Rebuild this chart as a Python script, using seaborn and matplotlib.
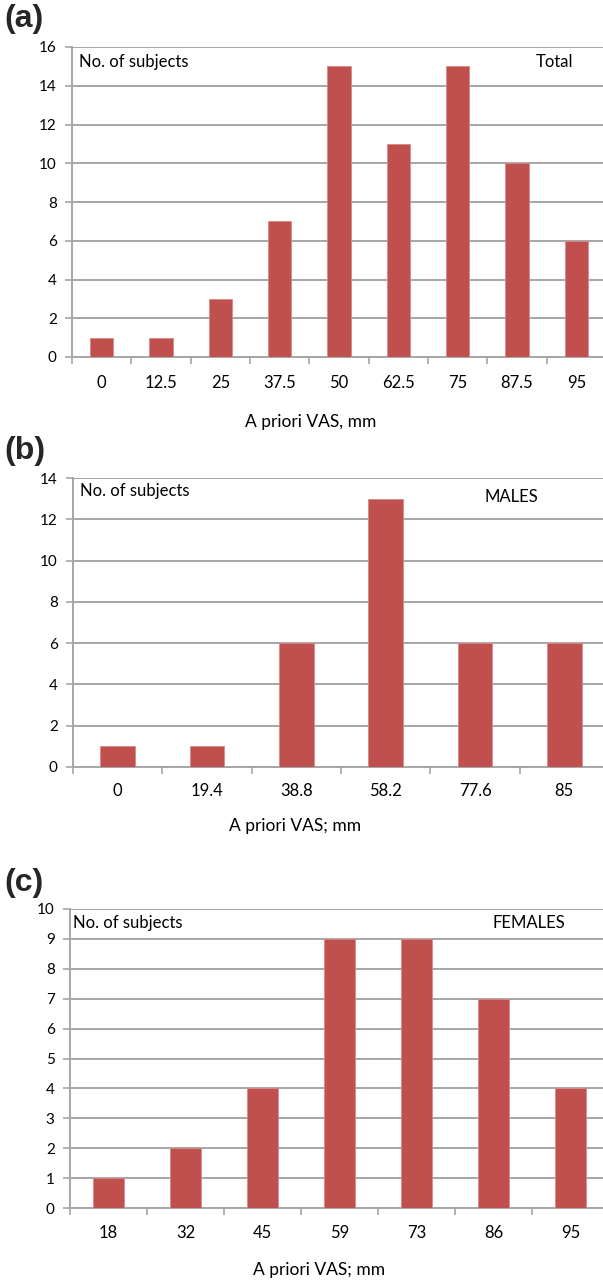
import matplotlib
matplotlib.use("Agg")
import matplotlib.pyplot as plt
import seaborn as sns
import numpy as np
import pandas as pd

# ---- data ----
total_cats = ["0", "12.5", "25", "37.5", "50", "62.5", "75", "87.5", "95"]
total_vals = [1, 1, 3, 7, 15, 11, 15, 10, 6]

male_cats = ["0", "19.4", "38.8", "58.2", "77.6", "85"]
male_vals = [1, 1, 6, 13, 6, 6]

female_cats = ["18", "32", "45", "59", "73", "86", "95"]
female_vals = [1, 2, 4, 9, 9, 7, 4]

panel_labels = ["(a)", "(b)", "(c)"]
group_labels = ["Total", "MALES", "FEMALES"]
xlabels = ["A priori VAS, mm", "A priori VAS; mm", "A priori VAS; mm"]
ymax = [16, 14, 10]
ystep = [2, 2, 1]

sns.set_theme(style="white")
plt.rcParams['font.family'] = ['Lato', 'DejaVu Sans']

W, H = 603, 1281
fig = plt.figure(figsize=(W / 100, H / 100), dpi=100)

BAR = "#C0504D"
GRID = "#a6a6a6"

# axes pixel boxes: left, top, bottom(0-line), right
boxes = [(72, 47, 357, 606), (73, 478, 767, 609), (70, 909, 1208, 609)]
panel_y = [19, 451, 883]
xlabel_pos = [(311, 422), (295, 826), (319, 1270)]
tick_y = [382, 790, 1232]
# annotation positions (pixels)
nos_pos = [(79, 62), (80, 491), (73, 923)]
grp_pos = [(555, 62), (511, 497), (529, 923)]

data = [(total_cats, total_vals), (male_cats, male_vals), (female_cats, female_vals)]

for i, ((cats, vals), (l, t, b, r)) in enumerate(zip(data, boxes)):
    ax = fig.add_axes([l / W, 1 - b / H, (r - l) / W, (b - t) / H])
    df = pd.DataFrame({"cat": cats, "val": vals})
    sns.barplot(data=df, x="cat", y="val", order=cats, color=BAR, saturation=1,
                width=0.39, edgecolor="#d98a88", linewidth=0.6, ax=ax, zorder=3)
    n = len(cats)
    ax.set_xlim(-0.5, n - 0.5)
    ax.set_ylim(0, ymax[i])
    ax.set_yticks(np.arange(0, ymax[i] + 0.01, ystep[i]))
    ax.yaxis.grid(True, color=GRID, linewidth=1.4, zorder=0)
    ax.set_axisbelow(True)
    for s in ["top", "right"]:
        ax.spines[s].set_visible(False)
    for s in ["left", "bottom"]:
        ax.spines[s].set_color(GRID)
        ax.spines[s].set_linewidth(1.4)
    # boundary tick marks (major), labels on minor ticks at centres
    ax.set_xticks(np.arange(-0.5, n, 1.0))
    ax.set_xticklabels([])
    ax.set_xticks(np.arange(n), minor=True)
    ax.set_xticklabels(cats, minor=True)
    ax.tick_params(axis="x", which="major", length=5, width=1.2, color=GRID, direction="out", bottom=True)
    ax.tick_params(axis="x", which="minor", length=0, pad=(tick_y[i] - b) * 0.72 - 5,
                   labelsize=12, labelcolor="black")
    ax.tick_params(axis="y", length=5, width=1.2, color=GRID, direction="out", left=True,
                   labelsize=11, labelcolor="black", pad=6)
    ax.set_xlabel("")
    ax.set_ylabel("")
    # texts
    fig.text(xlabel_pos[i][0] / W, 1 - xlabel_pos[i][1] / H, xlabels[i],
             ha="center", va="center", fontsize=12.5, color="black")
    fig.text(4 / W, 1 - panel_y[i] / H, panel_labels[i], ha="left", va="center",
             fontsize=23, fontweight="bold", family=["Liberation Sans", "DejaVu Sans"])
    fig.text(nos_pos[i][0] / W, 1 - nos_pos[i][1] / H, "No. of subjects", ha="left",
             va="center", fontsize=12, color="black")
    fig.text(grp_pos[i][0] / W, 1 - grp_pos[i][1] / H, group_labels[i], ha="center",
             va="center", fontsize=12, color="black")

fig.savefig("out.png", dpi=100)
